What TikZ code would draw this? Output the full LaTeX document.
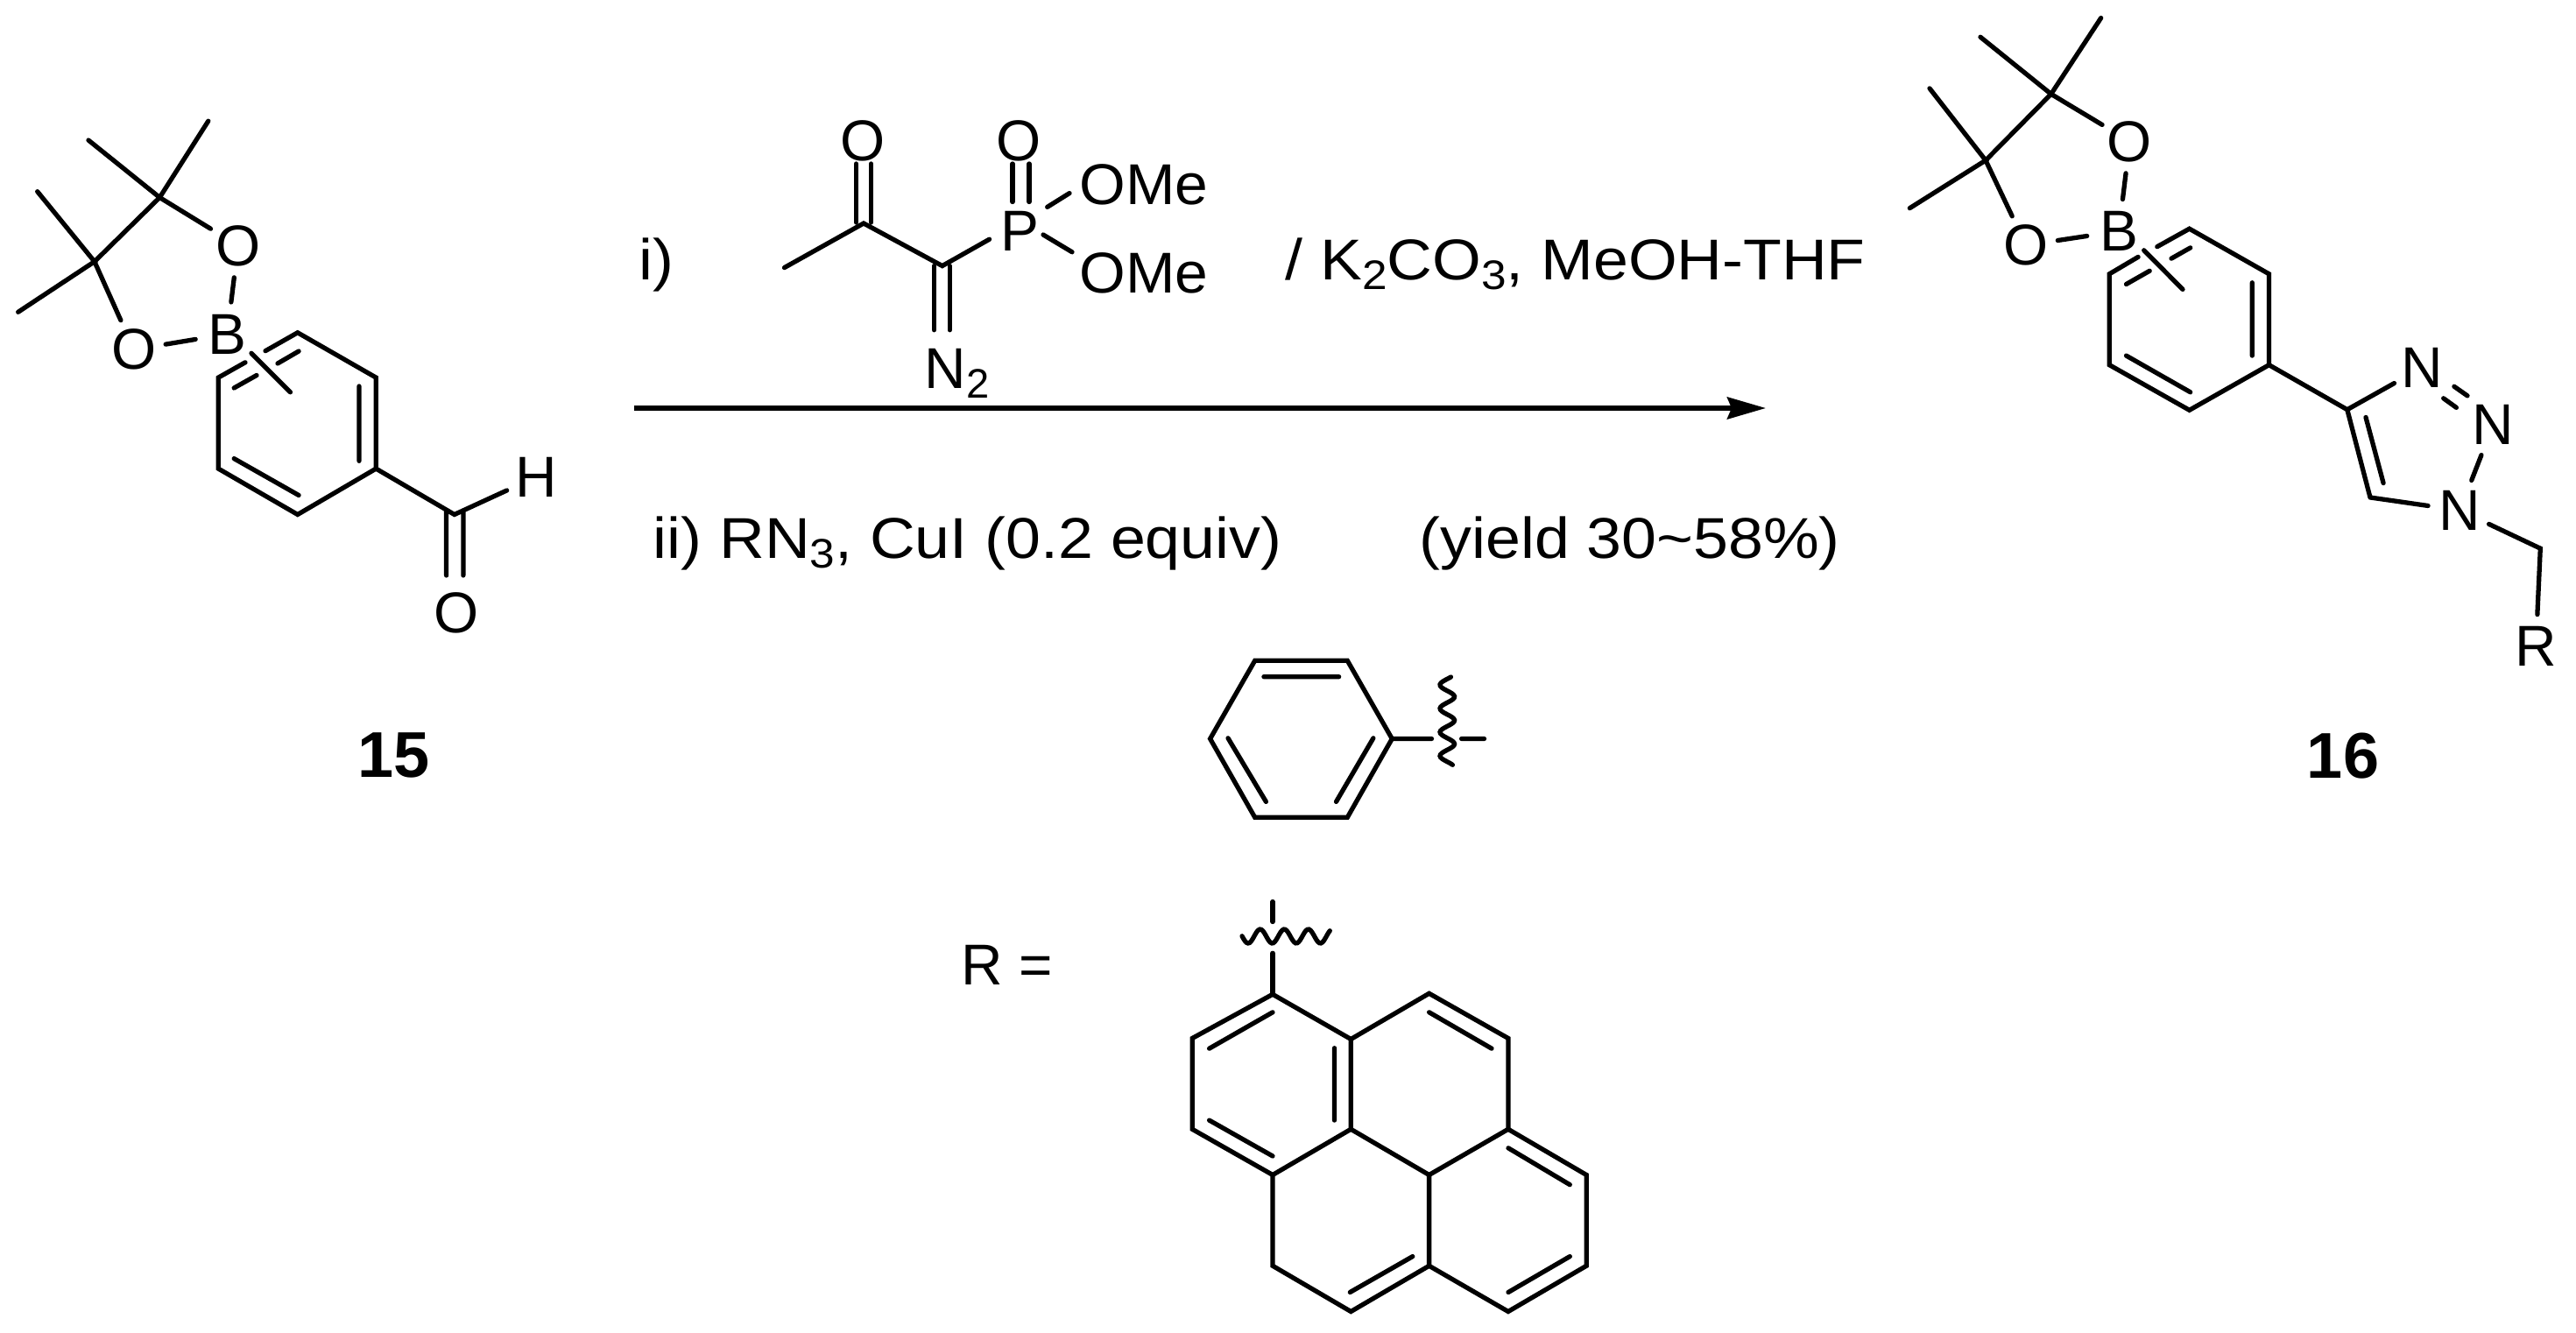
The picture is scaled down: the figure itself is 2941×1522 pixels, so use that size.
\documentclass[tikz,border=0pt]{standalone}
\usepackage{graphicx}
\usepackage{fontspec}
\setmainfont{Liberation Sans}
\usetikzlibrary{arrows.meta}
\newcommand{\txtsz}{\fontsize{18.7}{21}\selectfont}
\newcommand{\subnum}[1]{\raisebox{-3pt}{\fontsize{13.4}{15}\selectfont #1}}
\newcommand{\widetxt}[1]{\scalebox{1.09}[1]{#1}}
\tikzset{
  bondline/.style={line width=1.5pt,line cap=round,line join=miter,black},
  atomlabel/.style={circle,minimum size=0.72cm,inner sep=0pt,font=\txtsz,text=black},
  reagent/.style={anchor=base west,inner sep=0pt,font=\txtsz,text=black},
  groupname/.style={anchor=west,inner sep=0pt,font=\txtsz,text=black},
  cpdlabel/.style={inner sep=0pt,font=\fontsize{21}{24}\selectfont\bfseries,text=black},
  rxnarrow/.style={line width=1.5pt,-{Stealth[length=0.44cm,width=0.25cm,inset=0.05cm]}}
}
\begin{document}
\begin{tikzpicture}[x=0.01cm,y=-0.01cm]
\useasboundingbox (0,0) rectangle (2941,1522);
\fill[white] (0,0) rectangle (2941,1522);

% ---------- compound 15 ----------
\node[atomlabel] (aO1) at (271.8,280.4) {O};
\node[atomlabel] (aO2) at (152.9,399.2) {O};
\node[atomlabel] (aB) at (259.4,381.4) {B};
\node[atomlabel] (aH) at (612,544.6) {H};
\node[atomlabel] (aO3) at (521,699.9) {O};
\coordinate (aC1) at (182.3,225.5);
\coordinate (aM1) at (237.8,138.2);
\coordinate (aM2) at (101,160.1);
\coordinate (aC2) at (107.9,298.7);
\coordinate (aM3) at (42.7,218.7);
\coordinate (aM4) at (20.7,356.3);
\coordinate (aR1) at (339.8,379.8);
\coordinate (aR2) at (429.3,431.1);
\coordinate (aR3) at (429.3,535.1);
\coordinate (aR4) at (339.8,587.5);
\coordinate (aR5) at (249.3,535.1);
\coordinate (aR6) at (249.3,431.1);
\coordinate (aG1) at (280,413.8);
\coordinate (aG2) at (303,400.7);
\coordinate (aI1) at (267.2,443);
\coordinate (aI2) at (293,428.5);
\coordinate (aI3) at (317,415);
\coordinate (aI4) at (341.1,401);
\coordinate (aS1) at (287,403.3);
\coordinate (aS2) at (331.5,447.8);
\coordinate (aI5) at (410,441);
\coordinate (aI6) at (410,526.3);
\coordinate (aI7) at (267.2,523.6);
\coordinate (aI8) at (341.1,565.5);
\coordinate (aC3) at (518.8,587.5);
\coordinate (aD1) at (509.6,583.8);
\coordinate (aD2) at (509.6,657);
\coordinate (aD3) at (528.9,583.8);
\coordinate (aD4) at (528.9,657);
\draw[bondline] (aM1)--(aC1)--(aM2) (aC1)--(aC2) (aM3)--(aC2)--(aM4);
\draw[bondline] (aC1)--(aO1) (aC2)--(aO2) (aO1)--(aB) (aO2)--(aB);
\draw[bondline] (aG2)--(aR1)--(aR2)--(aR3)--(aR4)--(aR5)--(aR6)--(aG1);
\draw[bondline] (aI1)--(aI2) (aI3)--(aI4) (aS1)--(aS2) (aI5)--(aI6) (aI7)--(aI8);
\draw[bondline] (aR3)--(aC3)--(aH) (aD1)--(aD2) (aD3)--(aD4);
\node[cpdlabel] (lab15) at (450,862.5) {15};

% ---------- reagent ----------
\node[reagent] (ri) at (729,319.5) {\widetxt{i)}};
\node[atomlabel] (bO1) at (985,161) {O};
\node[atomlabel] (bO2) at (1163,161) {O};
\node[atomlabel] (bP) at (1164.6,264) {P};
\node[groupname] (bOMe1) at (1232,210.7) {\scalebox{1.03}[1]{OMe}};
\node[groupname] (bOMe2) at (1232,311.5) {\scalebox{1.03}[1]{OMe}};
\node[reagent] (bN) at (1055,444) {N\subnum{2}};
\coordinate (bM) at (895.5,305.6);
\coordinate (bC1) at (986,255);
\coordinate (bC2) at (1075.8,303.6);
\coordinate (bP1) at (1129.6,273.2);
\coordinate (bD1) at (977.6,187);
\coordinate (bD2) at (977.6,254);
\coordinate (bD3) at (994.6,187);
\coordinate (bD4) at (994.6,254);
\coordinate (bD5) at (1156,187);
\coordinate (bD6) at (1156,230.5);
\coordinate (bD7) at (1175,187);
\coordinate (bD8) at (1175,230.5);
\coordinate (bD9) at (1066.4,303.6);
\coordinate (bD10) at (1066.4,376.8);
\coordinate (bD11) at (1084.3,303.6);
\coordinate (bD12) at (1084.3,376.8);
\coordinate (bE1) at (1195.7,236.4);
\coordinate (bE2) at (1221,220.6);
\coordinate (bE3) at (1191,268);
\coordinate (bE4) at (1224,287.8);
\draw[bondline] (bM)--(bC1)--(bC2)--(bP1);
\draw[bondline] (bD1)--(bD2) (bD3)--(bD4) (bD5)--(bD6) (bD7)--(bD8) (bD9)--(bD10) (bD11)--(bD12);
\draw[bondline] (bE1)--(bE2) (bE3)--(bE4);
\node[reagent] (rk) at (1466.7,319.5) {\widetxt{/ K\subnum{2}CO\subnum{3}, MeOH-THF}};

% ---------- arrow ----------
\coordinate (arA) at (724,466);
\coordinate (arB) at (2016,466);
\draw[rxnarrow] (arA)--(arB);

\node[reagent] (rii) at (745,637.8) {\widetxt{ii) RN\subnum{3}, CuI (0.2 equiv)}};
\node[reagent] (ryield) at (1620,637.8) {\widetxt{(yield 30\char"007E 58\%)}};

% ---------- compound 16 ----------
\node[atomlabel] (cO1) at (2431.5,161.4) {O};
\node[atomlabel] (cO2) at (2313,280) {O};
\node[atomlabel] (cB) at (2419,264) {B};
\node[atomlabel] (cN1) at (2765.5,419.6) {N};
\node[atomlabel] (cN2) at (2846.3,485.3) {N};
\node[atomlabel] (cN3) at (2808.4,582.7) {N};
\node[atomlabel] (cR) at (2895.2,738.3) {R};
\coordinate (cC1) at (2341.7,107.4);
\coordinate (cM1) at (2398.7,20.5);
\coordinate (cM2) at (2261,42.3);
\coordinate (cC2) at (2267,183.1);
\coordinate (cM3) at (2203,100.9);
\coordinate (cM4) at (2180.3,237.7);
\coordinate (cR1) at (2499.6,261.2);
\coordinate (cR2) at (2590.5,312.8);
\coordinate (cR3) at (2590.5,416.7);
\coordinate (cR4) at (2499.6,468.3);
\coordinate (cR5) at (2408.3,416.7);
\coordinate (cR6) at (2408.3,312.8);
\coordinate (cG1) at (2441.1,293.4);
\coordinate (cG2) at (2462.8,281.7);
\coordinate (cI1) at (2427.5,324.5);
\coordinate (cI2) at (2454.2,309.3);
\coordinate (cI3) at (2479,295.2);
\coordinate (cI4) at (2500.7,282.9);
\coordinate (cS1) at (2447.7,285.8);
\coordinate (cS2) at (2492,330.4);
\coordinate (cI5) at (2571.3,322.8);
\coordinate (cI6) at (2571.3,406.1);
\coordinate (cI7) at (2427.5,406.1);
\coordinate (cI8) at (2500.7,447.8);
\coordinate (cC4) at (2679.8,467.7);
\coordinate (cC5) at (2706,568);
\coordinate (cI9) at (2701,476.5);
\coordinate (cI10) at (2721.1,551.6);
\coordinate (cT1) at (2801.9,441.3);
\coordinate (cT2) at (2817,451.9);
\coordinate (cT3) at (2789.7,454.8);
\coordinate (cT4) at (2804.4,465.4);
\coordinate (cCH) at (2900.3,626.2);
\draw[bondline] (cM1)--(cC1)--(cM2) (cC1)--(cC2) (cM3)--(cC2)--(cM4);
\draw[bondline] (cC1)--(cO1) (cC2)--(cO2) (cO1)--(cB) (cO2)--(cB);
\draw[bondline] (cG2)--(cR1)--(cR2)--(cR3)--(cR4)--(cR5)--(cR6)--(cG1);
\draw[bondline] (cI1)--(cI2) (cI3)--(cI4) (cS1)--(cS2) (cI5)--(cI6) (cI7)--(cI8);
\draw[bondline] (cR3)--(cC4) (cC4)--(cN1) (cC4)--(cC5) (cI9)--(cI10) (cC5)--(cN3);
\draw[bondline] (cT1)--(cT2) (cT3)--(cT4) (cN2)--(cN3) (cN3)--(cCH)--(cR);
\node[cpdlabel] (lab16) at (2675,862.7) {16};

% ---------- phenyl ----------
\coordinate (dA) at (1432.7,754.3);
\coordinate (dB) at (1538.3,754.3);
\coordinate (dC) at (1589.3,843.5);
\coordinate (dD) at (1538.3,933.3);
\coordinate (dE) at (1432.7,933.3);
\coordinate (dF) at (1381.6,843.5);
\coordinate (dI1) at (1442.9,772.7);
\coordinate (dI2) at (1528.6,772.7);
\coordinate (dI3) at (1402,842.8);
\coordinate (dI4) at (1445.4,915.4);
\coordinate (dI5) at (1567.9,842.8);
\coordinate (dI6) at (1525.5,915.4);
\coordinate (dS1) at (1634.5,843.5);
\coordinate (dS2) at (1668.6,843.5);
\coordinate (dS3) at (1694.5,843.5);
\draw[bondline] (dA)--(dB)--(dC)--(dD)--(dE)--(dF)--cycle;
\draw[bondline] (dI1)--(dI2) (dI3)--(dI4) (dI5)--(dI6) (dC)--(dS1) (dS2)--(dS3);
\draw[bondline] plot[smooth,domain=773:873.3,samples=60,variable=\t] ({1652.3-8.3*cos((\t-782)/27*360)},{\t});

% ---------- R = pyrene ----------
\node[reagent] (eR) at (1097,1124) {R =};
\coordinate (ea) at (1453,1135.3);
\coordinate (eb) at (1361.2,1185.5);
\coordinate (ec) at (1361.2,1289.3);
\coordinate (ed) at (1453,1341.5);
\coordinate (ee) at (1542.3,1289.3);
\coordinate (ef) at (1542.3,1186.5);
\coordinate (eg) at (1631.6,1134.3);
\coordinate (eh) at (1721.9,1185.5);
\coordinate (ei) at (1721.9,1289.3);
\coordinate (ej) at (1631.6,1341.5);
\coordinate (ek) at (1811.2,1341.5);
\coordinate (el) at (1811.2,1445.3);
\coordinate (em) at (1721.9,1497.5);
\coordinate (en) at (1631.6,1445.3);
\coordinate (eo) at (1542.3,1497.5);
\coordinate (ep) at (1453,1445.3);
\coordinate (eI1) at (1453,1155.8);
\coordinate (eI2) at (1380.6,1197.2);
\coordinate (eI3) at (1380.6,1279.1);
\coordinate (eI4) at (1453,1320);
\coordinate (eI5) at (1523.5,1196.7);
\coordinate (eI6) at (1523.5,1279.1);
\coordinate (eI7) at (1631.6,1155.8);
\coordinate (eI8) at (1703,1197.2);
\coordinate (eI9) at (1722,1310.8);
\coordinate (eI10) at (1792.3,1352.7);
\coordinate (eI11) at (1792.3,1434.6);
\coordinate (eI12) at (1722,1475.5);
\coordinate (eI13) at (1612.8,1434.6);
\coordinate (eI14) at (1541.3,1475.5);
\coordinate (eS1) at (1453,1088.3);
\coordinate (eS2) at (1453,1052.5);
\coordinate (eS3) at (1453,1029.5);
\draw[bondline] (ea)--(eb)--(ec)--(ed)--(ee)--(ef)--cycle;
\draw[bondline] (ef)--(eg)--(eh)--(ei)--(ej)--(ee);
\draw[bondline] (ei)--(ek)--(el)--(em)--(en)--(ej);
\draw[bondline] (en)--(eo)--(ep)--(ed);
\draw[bondline] (eI1)--(eI2) (eI3)--(eI4) (eI5)--(eI6) (eI7)--(eI8) (eI9)--(eI10) (eI11)--(eI12) (eI13)--(eI14);
\draw[bondline] (ea)--(eS1) (eS2)--(eS3);
\draw[bondline] plot[smooth,domain=1418:1518.3,samples=60,variable=\t] ({\t},{1069+8*cos((\t-1425)/27.5*360)});
\end{tikzpicture}
\end{document}
